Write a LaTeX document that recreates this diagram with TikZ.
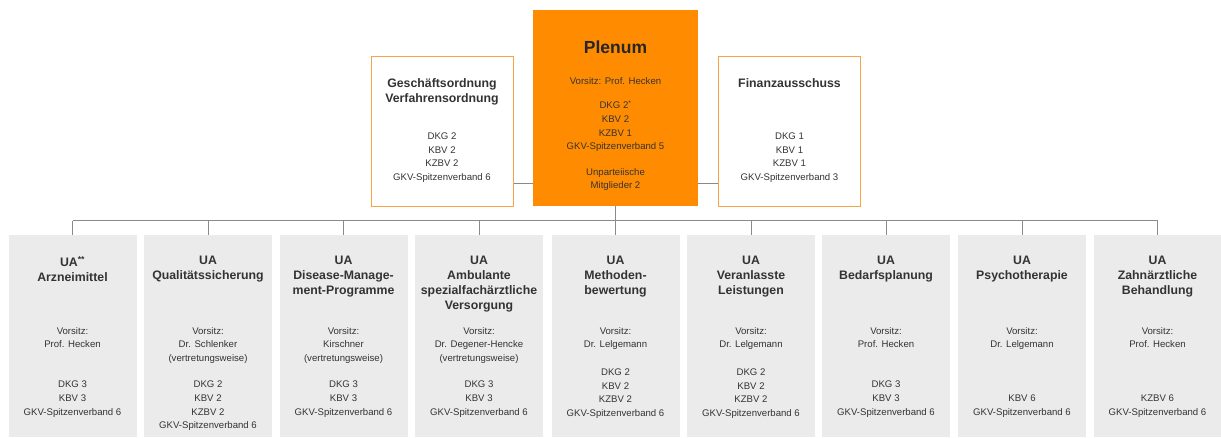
\documentclass[tikz,border=0pt]{standalone}
\usepackage{fontspec}
\setmainfont{Liberation Sans}
\usepackage{tikz}
\definecolor{plenumorange}{HTML}{FF8C00}
\definecolor{frameorange}{HTML}{F8A444}
\definecolor{uagray}{HTML}{EBEBEB}
\definecolor{linegray}{HTML}{8A8A8A}
\definecolor{txt}{HTML}{333333}
\tikzset{
  uabox/.style={fill=uagray,draw=none,minimum width=128pt,minimum height=202pt,inner sep=0pt},
  sidebox/.style={fill=white,draw=frameorange,line width=1pt,minimum width=142pt,minimum height=150pt,inner sep=0pt},
  ttl/.style={anchor=north,align=center,inner sep=0pt,text=txt,font=\fontsize{12.3}{15}\selectfont\bfseries},
  txtline/.style={anchor=north,align=center,inner sep=0pt,text=txt,font=\fontsize{9.6}{13.6}\selectfont},
  link/.style={draw=linegray,line width=0.9pt}
}
\begin{document}
\begin{tikzpicture}[x=1pt,y=-1pt]
            \useasboundingbox (0,0) rectangle (1221,437);
            % upper row
            \node[fill=plenumorange,draw=none,minimum width=165pt,minimum height=196pt,inner sep=0pt] (plenum) at (615.5,108) {};
            \node[sidebox] (go) at (442,131) {};
            \node[sidebox] (fin) at (789.5,131) {};
            \node[anchor=north,inner sep=0pt,text=black!85,font=\fontsize{17.5}{20}\selectfont\bfseries] (plenumT) at (615.5,40.5) {Plenum};
            \node[txtline] (plenumV) at (615.5,77) {Vorsitz: Prof. Hecken};
            \node[txtline] (plenumM) at (615.5,100.5) {DKG 2\textsuperscript{*}\\KBV 2\\KZBV 1\\GKV-Spitzenverband 5};
            \node[txtline] (plenumU) at (615.5,168) {Unparteiische\\Mitglieder 2};
            \node[ttl] (goT) at (442,78.5) {Geschäftsordnung\\Verfahrensordnung};
            \node[txtline] (goM) at (442,132.5) {DKG 2\\KBV 2\\KZBV 2\\GKV-Spitzenverband 6};
            \node[ttl] (finT) at (789.5,78.5) {Finanzausschuss};
            \node[txtline] (finM) at (789.5,132.5) {DKG 1\\KBV 1\\KZBV 1\\GKV-Spitzenverband 3};
            % sub-committees
            \node[uabox] (ua1) at (72.5,336) {};
            \node[uabox] (ua2) at (208,336) {};
            \node[uabox] (ua3) at (343.5,336) {};
            \node[uabox] (ua4) at (479,336) {};
            \node[uabox] (ua5) at (615.5,336) {};
            \node[uabox] (ua6) at (751,336) {};
            \node[uabox] (ua7) at (886,336) {};
            \node[uabox] (ua8) at (1022,336) {};
            \node[uabox] (ua9) at (1157.5,336) {};
            \node[ttl] at (72.5,256) {UA\textsuperscript{**}\\Arzneimittel};
            \node[txtline] at (72.5,327) {Vorsitz:\\Prof. Hecken};
            \node[txtline] at (72.5,381) {DKG 3\\KBV 3\\GKV-Spitzenverband 6};
            \node[ttl] at (208,256) {UA\\Qualitätssicherung};
            \node[txtline] at (208,327) {Vorsitz:\\Dr. Schlenker\\(vertretungsweise)};
            \node[txtline] at (208,381) {DKG 2\\KBV 2\\KZBV 2\\GKV-Spitzenverband 6};
            \node[ttl] at (343.5,256) {UA\\Disease-Manage-\\ment-Programme};
            \node[txtline] at (343.5,327) {Vorsitz:\\Kirschner\\(vertretungsweise)};
            \node[txtline] at (343.5,381) {DKG 3\\KBV 3\\GKV-Spitzenverband 6};
            \node[ttl] at (479,256) {UA\\Ambulante\\spezialfachärztliche\\Versorgung};
            \node[txtline] at (479,327) {Vorsitz:\\Dr. Degener-Hencke\\(vertretungsweise)};
            \node[txtline] at (479,381) {DKG 3\\KBV 3\\GKV-Spitzenverband 6};
            \node[ttl] at (615.5,256) {UA\\Methoden-\\bewertung};
            \node[txtline] at (615.5,327) {Vorsitz:\\Dr. Lelgemann};
            \node[txtline] at (615.5,368.5) {DKG 2\\KBV 2\\KZBV 2\\GKV-Spitzenverband 6};
            \node[ttl] at (751,256) {UA\\Veranlasste\\Leistungen};
            \node[txtline] at (751,327) {Vorsitz:\\Dr. Lelgemann};
            \node[txtline] at (751,368.5) {DKG 2\\KBV 2\\KZBV 2\\GKV-Spitzenverband 6};
            \node[ttl] at (886,256) {UA\\Bedarfsplanung};
            \node[txtline] at (886,327) {Vorsitz:\\Prof. Hecken};
            \node[txtline] at (886,381) {DKG 3\\KBV 3\\GKV-Spitzenverband 6};
            \node[ttl] at (1022,256) {UA\\Psychotherapie};
            \node[txtline] at (1022,327) {Vorsitz:\\Dr. Lelgemann};
            \node[txtline] at (1022,395) {KBV 6\\GKV-Spitzenverband 6};
            \node[ttl] at (1157.5,256) {UA\\Zahnärztliche\\Behandlung};
            \node[txtline] at (1157.5,327) {Vorsitz:\\Prof. Hecken};
            \node[txtline] at (1157.5,395) {KZBV 6\\GKV-Spitzenverband 6};
            % connections
            \coordinate (bus) at (615.5,220.5);
            \draw[link] ([yshift=-52pt]go.east) -- ([yshift=-52pt]go.east -| plenum.west);
            \draw[link] ([yshift=-52pt]fin.west) -- ([yshift=-52pt]fin.west -| plenum.east);
            \draw[link] (plenum.south) -- (bus);
            \draw[link] (ua1.north |- bus) -- (ua9.north |- bus);
            \draw[link] (ua1.north |- bus) -- (ua1.north);
            \draw[link] (ua2.north |- bus) -- (ua2.north);
            \draw[link] (ua3.north |- bus) -- (ua3.north);
            \draw[link] (ua4.north |- bus) -- (ua4.north);
            \draw[link] (ua5.north |- bus) -- (ua5.north);
            \draw[link] (ua6.north |- bus) -- (ua6.north);
            \draw[link] (ua7.north |- bus) -- (ua7.north);
            \draw[link] (ua8.north |- bus) -- (ua8.north);
            \draw[link] (ua9.north |- bus) -- (ua9.north);
\end{tikzpicture}
\end{document}
